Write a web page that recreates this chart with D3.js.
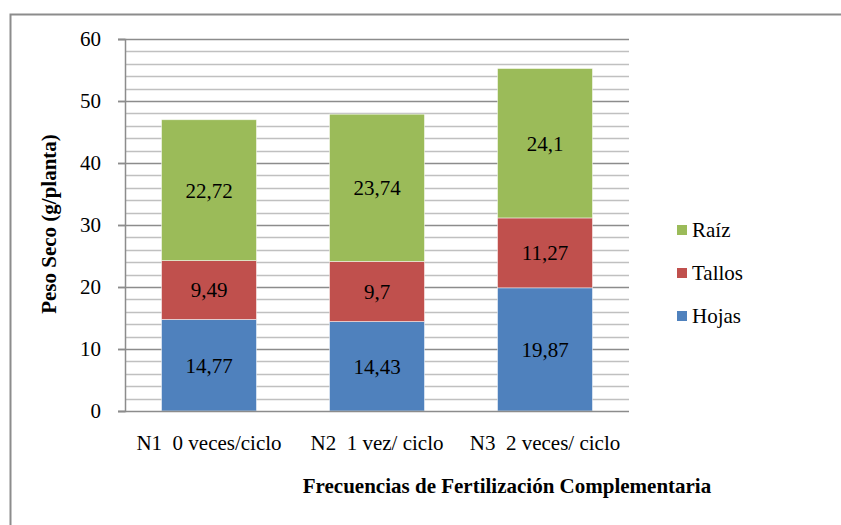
<!DOCTYPE html>
<meta charset="utf-8">
<style>
  body { margin: 0; background: #fff; }
  svg text { font-family: "Liberation Serif", "DejaVu Serif", serif; fill: #000; }
</style>
<body>
<div id="chart"></div>
<script src="https://cdn.jsdelivr.net/npm/d3@7"></script>
<script>
// datos
var categorias = ["N1  0 veces/ciclo", "N2  1 vez/ ciclo", "N3  2 veces/ ciclo"];
var hojas  = [14.77, 14.43, 19.87];
var tallos = [9.49, 9.7, 11.27];
var raiz   = [22.72, 23.74, 24.1];
var series = ["Hojas", "Tallos", "Raíz"];
var colores = ["#4F81BD", "#C0504D", "#9BBB59"];
var etiquetas = {"Hojas": ["14,77", "14,43", "19,87"], "Tallos": ["9,49", "9,7", "11,27"], "Raíz": ["22,72", "23,74", "24,1"]};
var yTicks = [0, 10, 20, 30, 40, 50, 60];

var width = 841, height = 525;
var mLeft = 125, mRight = 629, mTop = 39, mBottom = 411;
var fuente = "'Liberation Serif', 'DejaVu Serif', serif";
var tam = "21px";

var svg = d3.select("#chart").append("svg")
    .attr("width", width)
    .attr("height", height)
    .attr("font-family", fuente);

// marco exterior (solo arriba e izquierda visibles)
svg.append("path")
    .attr("d", "M10.5," + height + "V14.5H" + width)
    .attr("fill", "none")
    .attr("stroke", "#8c8c8c")
    .attr("stroke-width", 2);

var rows = categorias.map(function(c, i) {
  return {cat: c, "Hojas": hojas[i], "Tallos": tallos[i], "Raíz": raiz[i], i: i};
});

var x = d3.scaleBand()
    .domain(categorias)
    .range([mLeft, mRight])
    .paddingInner(0.435)
    .paddingOuter(0.2175);

var y = d3.scaleLinear()
    .domain([0, 60])
    .range([mBottom, mTop]);

// lineas de division menores y mayores
var minor = d3.range(2, 60, 2).filter(function(v) { return v % 10 !== 0; });
svg.append("g").selectAll("line")
    .data(minor)
  .enter().append("line")
    .attr("x1", mLeft).attr("x2", mRight)
    .attr("y1", function(d) { return Math.round(y(d)) + 0.5; })
    .attr("y2", function(d) { return Math.round(y(d)) + 0.5; })
    .attr("stroke", "#c0c0c0")
    .attr("stroke-width", 1.5);

svg.append("g").selectAll("line")
    .data(yTicks.filter(function(d) { return d > 0; }))
  .enter().append("line")
    .attr("x1", mLeft - 7).attr("x2", mRight)
    .attr("y1", function(d) { return Math.round(y(d)) + 0.5; })
    .attr("y2", function(d) { return Math.round(y(d)) + 0.5; })
    .attr("stroke", "#8c8c8c")
    .attr("stroke-width", 1.5);

// eje y
var yAxis = svg.append("g")
    .attr("transform", "translate(" + mLeft + ",0)")
    .call(d3.axisLeft(y).tickValues(yTicks).tickSize(7).tickPadding(17));
yAxis.attr("font-family", fuente).attr("font-size", 21);
yAxis.select(".domain").attr("stroke", "#8c8c8c").attr("stroke-width", 1.5);
yAxis.selectAll(".tick line").attr("stroke", "#8c8c8c").attr("stroke-width", 1.5);
yAxis.selectAll(".tick text").attr("fill", "#000");

// barras apiladas
var stack = d3.stack().keys(series);
var stacked = stack(rows);

var grupos = svg.append("g").selectAll("g")
    .data(stacked)
  .enter().append("g")
    .attr("fill", function(d, i) { return colores[i]; });

grupos.selectAll("rect")
    .data(function(d) { return d; })
  .enter().append("rect")
    .attr("x", function(d) { return x(d.data.cat); })
    .attr("y", function(d) { return y(d[1]); })
    .attr("width", x.bandwidth())
    .attr("height", function(d) { return y(d[0]) - y(d[1]); })
    .attr("stroke", "#fff")
    .attr("stroke-opacity", 0.6)
    .attr("stroke-width", 0.8);

grupos.selectAll("text")
    .data(function(d) { return d.map(function(p) { return {p: p, key: d.key}; }); })
  .enter().append("text")
    .attr("x", function(d) { return x(d.p.data.cat) + x.bandwidth() / 2; })
    .attr("y", function(d) { return (y(d.p[0]) + y(d.p[1])) / 2; })
    .attr("dy", "0.35em")
    .attr("text-anchor", "middle")
    .style("font-size", tam)
    .text(function(d) { return etiquetas[d.key][d.p.data.i]; });

// eje base
svg.append("line")
    .attr("x1", mLeft - 7).attr("x2", mRight)
    .attr("y1", mBottom + 0.5).attr("y2", mBottom + 0.5)
    .attr("stroke", "#8c8c8c")
    .attr("stroke-width", 1.5);

// etiquetas de categoria
svg.append("g").selectAll("text")
    .data(categorias)
  .enter().append("text")
    .attr("x", function(d) { return x(d) + x.bandwidth() / 2; })
    .attr("y", 450)
    .attr("text-anchor", "middle")
    .style("font-size", tam)
    .style("white-space", "pre")
    .text(function(d) { return d; });

// titulos de ejes
svg.append("text")
    .attr("x", 507)
    .attr("y", 493)
    .attr("text-anchor", "middle")
    .style("font-size", tam)
    .style("font-weight", "bold")
    .text("Frecuencias de Fertilización Complementaria");

svg.append("text")
    .attr("transform", "translate(56,224) rotate(-90)")
    .attr("text-anchor", "middle")
    .style("font-size", tam)
    .style("font-weight", "bold")
    .text("Peso Seco (g/planta)");

// leyenda
var leyenda = svg.append("g").selectAll("g")
    .data(series.slice().reverse())
  .enter().append("g")
    .attr("transform", function(d, i) { return "translate(677," + (225 + i * 43) + ")"; });

leyenda.append("rect")
    .attr("width", 10).attr("height", 10)
    .attr("fill", function(d) { return colores[series.indexOf(d)]; });

leyenda.append("text")
    .attr("x", 15)
    .attr("y", 5)
    .attr("dy", "0.35em")
    .style("font-size", tam)
    .text(function(d) { return d; });
</script>
</body>
